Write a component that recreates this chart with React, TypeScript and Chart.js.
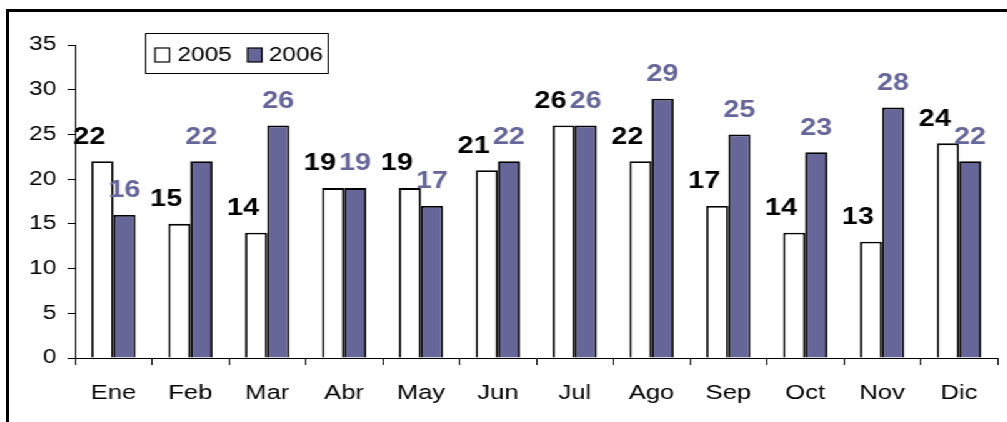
import React, { useEffect, useRef } from "react";
import { Chart, registerables } from "chart.js";

Chart.register(...registerables);

const categories = ["Ene", "Feb", "Mar", "Abr", "May", "Jun", "Jul", "Ago", "Sep", "Oct", "Nov", "Dic"];
const values2005 = [22, 15, 14, 19, 19, 21, 26, 22, 17, 14, 13, 24];
const values2006 = [16, 22, 26, 19, 17, 22, 26, 29, 25, 23, 28, 22];
const seriesNames = ["2005", "2006"];

const FONT = '"Liberation Sans", Arial, Helvetica, sans-serif';
const STRETCH = 1.25;
const W = Math.round(1007 / STRETCH);
const H = 422;
const C2006 = "#666699";

const labelPlugin = {
  id: "valueLabels",
  afterDatasetsDraw(chart: any) {
    const ctx = chart.ctx;
    ctx.save();
    ctx.font = `bold 23px ${FONT}`;
    ctx.textAlign = "center";
    ctx.textBaseline = "middle";
    chart.data.datasets.forEach((ds: any, di: number) => {
      const meta = chart.getDatasetMeta(di);
      ctx.fillStyle = di === 0 ? "#000000" : C2006;
      const dx = di === 0 ? -10.5 : 0;
      meta.data.forEach((bar: any, i: number) => {
        ctx.fillText(String(ds.data[i]), bar.x + dx, bar.y - 24);
      });
    });
    ctx.restore();
  },
};

const legendPlugin = {
  id: "boxLegend",
  afterDraw(chart: any) {
    const ctx = chart.ctx;
    const ca = chart.chartArea;
    const bx = ca.left + 56;
    const by = ca.top - 12;
    const bw = 146;
    const bh = 40;
    ctx.save();
    ctx.fillStyle = "#ffffff";
    ctx.fillRect(bx, by, bw, bh);
    ctx.strokeStyle = "#000000";
    ctx.lineWidth = 1;
    ctx.strokeRect(bx + 0.5, by + 0.5, bw, bh);
    const items = [
      { name: seriesNames[0], fill: "#ffffff", sx: 8, tx: 26 },
      { name: seriesNames[1], fill: C2006, sx: 82, tx: 99 },
    ];
    ctx.font = `19.5px ${FONT}`;
    ctx.textBaseline = "middle";
    ctx.textAlign = "left";
    items.forEach((it) => {
      ctx.fillStyle = it.fill;
      ctx.fillRect(bx + it.sx, by + 15, 11.5, 14);
      ctx.strokeStyle = "#000000";
      ctx.lineWidth = 1.2;
      ctx.strokeRect(bx + it.sx, by + 15, 11.5, 14);
      ctx.fillStyle = "#000000";
      ctx.fillText(it.name, bx + it.tx, by + 22.5);
    });
    ctx.restore();
  },
};

export default function App() {
  const canvasRef = useRef<HTMLCanvasElement | null>(null);

  useEffect(() => {
    if (!canvasRef.current) return;
    const chart = new Chart(canvasRef.current, {
      type: "bar",
      data: {
        labels: categories,
        datasets: [
          {
            label: seriesNames[0],
            data: values2005,
            backgroundColor: "#ffffff",
            borderColor: "#000000",
            borderWidth: 1.8,
            categoryPercentage: 0.575,
            barPercentage: 1,
          },
          {
            label: seriesNames[1],
            data: values2006,
            backgroundColor: C2006,
            borderColor: "#000000",
            borderWidth: 1.8,
            categoryPercentage: 0.575,
            barPercentage: 1,
          },
        ],
      },
      options: {
        responsive: false,
        animation: false,
        layout: { padding: { top: 45, right: 8, bottom: 0, left: 0 } },
        plugins: {
          legend: { display: false },
          tooltip: { enabled: false },
        },
        scales: {
          x: {
            afterFit: (s: any) => {
              s.height = 64;
            },
            grid: {
              display: true,
              drawOnChartArea: false,
              drawTicks: true,
              tickLength: 7,
              offset: true,
              color: "#000000",
            },
            border: { display: true, color: "#000000", width: 1 },
            ticks: {
              color: "#000000",
              font: { family: FONT, size: 20.5 },
              padding: 16,
              maxRotation: 0,
            },
          },
          y: {
            min: 0,
            max: 35,
            afterFit: (s: any) => {
              s.width = 60;
            },
            grid: {
              display: true,
              drawOnChartArea: false,
              drawTicks: true,
              tickLength: 6,
              color: "#000000",
            },
            border: { display: true, color: "#000000", width: 1 },
            ticks: {
              stepSize: 5,
              color: "#000000",
              font: { family: FONT, size: 19.5 },
              padding: 9,
            },
          },
        },
      },
      plugins: [labelPlugin, legendPlugin],
    });
    return () => chart.destroy();
  }, []);

  return (
    <>
      <div
        style={{
          position: "fixed",
          left: 0,
          top: 0,
          width: W,
          height: H,
          transform: `scaleX(${STRETCH})`,
          transformOrigin: "0 0",
          background: "#ffffff",
        }}
      >
        <canvas ref={canvasRef} width={W} height={H} style={{ display: "block" }} />
      </div>
      <div
        style={{
          position: "fixed",
          left: 6,
          top: 9,
          right: -20,
          bottom: -20,
          border: "3px solid #000000",
          pointerEvents: "none",
        }}
      />
    </>
  );
}
